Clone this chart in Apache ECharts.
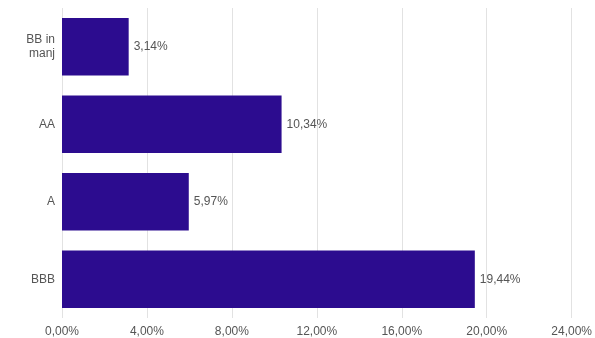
<!DOCTYPE html>
<html>
<head>
<meta charset="utf-8">
<script src="https://cdn.jsdelivr.net/npm/echarts@6/dist/echarts.min.js"></script>
<style>
  html, body { margin: 0; padding: 0; background: #fff; }
  #chart { width: 595px; height: 338px; }
</style>
</head>
<body>
<div id="chart"></div>
<script>
var categories = ['BB in\nmanj', 'AA', 'A', 'BBB'];
var values = [3.14, 10.34, 5.97, 19.44];
var axisMax = 24;
var axisStep = 4;

function pct(v) {
    return v.toFixed(2).replace('.', ',') + '%';
}

var chart = echarts.init(document.getElementById('chart'));
chart.setOption({
    animation: false,
    textStyle: { fontFamily: 'Liberation Sans, Arial, sans-serif' },
    grid: { left: 62, right: 23, top: 8, bottom: 18 },
    xAxis: {
        type: 'value',
        min: 0,
        max: axisMax,
        interval: axisStep,
        axisLine: { show: false },
        axisTick: { show: false },
        splitLine: { show: true, lineStyle: { color: '#e2e2e2', width: 1 } },
        axisLabel: {
            formatter: pct,
            color: '#555',
            fontSize: 12,
            margin: 8
        }
    },
    yAxis: {
        type: 'category',
        data: categories,
        inverse: true,
        axisLine: { show: false },
        axisTick: { show: false },
        axisLabel: {
            color: '#555',
            fontSize: 12,
            margin: 7,
            lineHeight: 14
        }
    },
    series: [{
        type: 'bar',
        data: values,
        barCategoryGap: '25.5%',
        itemStyle: { color: '#2c0c8f' },
        label: {
            show: true,
            position: 'right',
            distance: 5,
            formatter: function (p) { return pct(p.value); },
            color: '#555',
            fontSize: 12
        }
    }]
});
</script>
</body>
</html>
